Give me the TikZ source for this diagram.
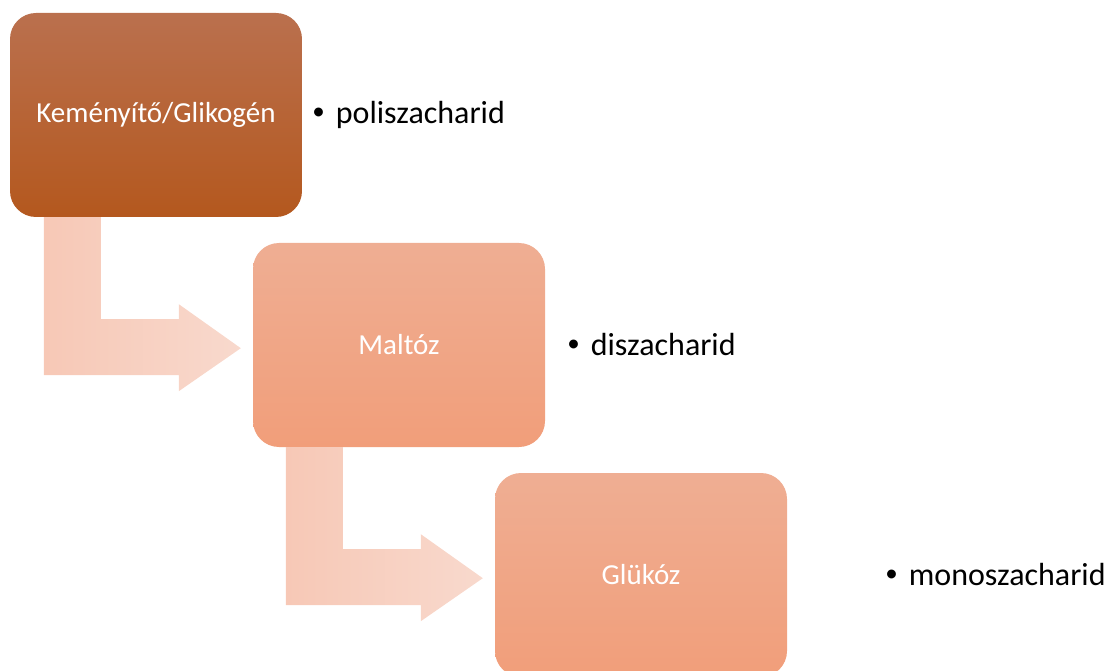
\documentclass[tikz,border=0pt]{standalone}
\usepackage{fontspec}
\setmainfont{Carlito}
\usetikzlibrary{positioning}

\definecolor{boxtopA}{HTML}{BA704E}
\definecolor{boxbotA}{HTML}{B4581E}
\definecolor{boxtopB}{HTML}{EFAE93}
\definecolor{boxbotB}{HTML}{F19E7A}
\definecolor{arrowleft}{HTML}{F7C8B6}
\definecolor{arrowright}{HTML}{F8D9CD}

\newcommand{\dotmark}{\raisebox{4pt}{\fontsize{25}{30}\selectfont\textbullet}\hspace{11pt}}

\begin{document}
\begin{tikzpicture}[x=1pt,y=-1pt]
\tikzset{
  every node/.style={inner sep=0pt},
  stepbox/.style={rounded corners=26pt, minimum width=292pt, minimum height=204pt,
    text=white, font=\fontsize{29}{35}\selectfont},
  darkbox/.style={stepbox, top color=boxtopA, bottom color=boxbotA},
  lightbox/.style={stepbox, top color=boxtopB, bottom color=boxbotB},
  bentarrow/.style={left color=arrowleft, right color=arrowright},
  note/.style={anchor=west, font=\fontsize{32}{38}\selectfont}
}
\useasboundingbox (0,0) rectangle (1106,671);
% the three stages
\node[darkbox] (starch) at (156,115) {Keményítő/Glikogén};
\node[lightbox] (maltose) at (399,345) {Maltóz};
\node[lightbox] (glucose) at (641,575) {Glükóz};
% bent arrows between them
\shade[bentarrow] ([shift={(34,0)}]starch.south west) -- ++(57,0) -- ++(0,102)
  -- ++(78,0) -- ++(0,-15) -- ++(62,44) -- ++(-62,43) -- ++(0,-16) -- ++(-135,0) -- cycle;
\shade[bentarrow] ([shift={(33,0)}]maltose.south west) -- ++(57,0) -- ++(0,102)
  -- ++(78,0) -- ++(0,-15) -- ++(62,44) -- ++(-62,43) -- ++(0,-16) -- ++(-135,0) -- cycle;
% labels
\node[note] (poly) at ([xshift=10]starch.east) {\dotmark poliszacharid};
\node[note] (di) at ([xshift=22]maltose.east) {\dotmark diszacharid};
\node[note] (mono) at ([xshift=98]glucose.east) {\dotmark monoszacharid};
\end{tikzpicture}
\end{document}
